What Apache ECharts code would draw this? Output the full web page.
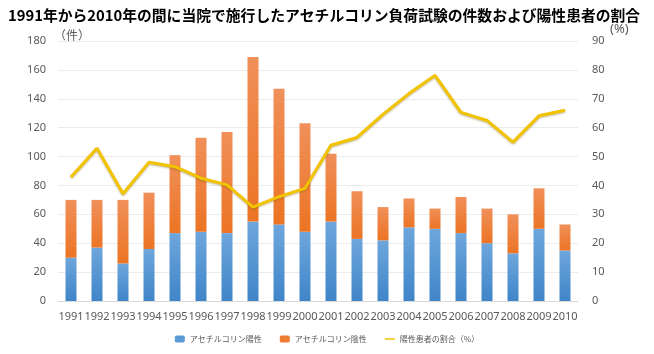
<!DOCTYPE html>
<html>
<head>
<meta charset="utf-8">
<script src="https://cdn.jsdelivr.net/npm/echarts@6/dist/echarts.min.js"></script>
<style>
  html, body { margin: 0; padding: 0; background: #fff; }
  #chart { width: 654px; height: 354px; }
</style>
</head>
<body>
<div id="chart"></div>
<script>
// values
const years = ['1991','1992','1993','1994','1995','1996','1997','1998','1999','2000',
               '2001','2002','2003','2004','2005','2006','2007','2008','2009','2010'];
const positive = [30, 37, 26, 36, 47, 48, 47, 55, 53, 48, 55, 43, 42, 51, 50, 47, 40, 33, 50, 35];
const negative = [40, 33, 44, 39, 54, 65, 70, 114, 94, 75, 47, 33, 23, 20, 14, 25, 24, 27, 28, 18];
const positiveRate = [42.9, 52.9, 37.1, 48.0, 46.5, 42.5, 40.2, 32.5, 36.1, 39.0,
                      53.9, 56.6, 64.6, 71.8, 78.1, 65.3, 62.5, 55.0, 64.1, 66.0];

const blueGrad = new echarts.graphic.LinearGradient(0, 0, 0, 1, [
    { offset: 0, color: '#6ea6dc' },
    { offset: 1, color: '#3f85c8' }
]);
const orangeGrad = new echarts.graphic.LinearGradient(0, 0, 0, 1, [
    { offset: 0, color: '#f0905a' },
    { offset: 1, color: '#ec7424' }
]);

const chart = echarts.init(document.getElementById('chart'));
const axisText = { color: '#595959', fontSize: 11, fontFamily: 'Noto Sans' };

chart.setOption({
    animation: false,
    title: {
        text: '1991年から2010年の間に当院で施行したアセチルコリン負荷試験の件数および陽性患者の割合',
        left: 3, top: 3,
        textStyle: { fontSize: 14.8, fontWeight: 'bold', color: '#000', fontFamily: 'Noto Sans CJK JP' }
    },
    legend: {
        bottom: 6, left: 'center',
        itemWidth: 10, itemHeight: 7, itemGap: 18,
        textStyle: { fontSize: 8, color: '#595959', fontFamily: 'Noto Sans CJK JP' },
        data: [
            { name: 'アセチルコリン陽性', itemStyle: { color: '#5b9bd5' } },
            { name: 'アセチルコリン陰性', itemStyle: { color: '#ed7d31' } },
            { name: '陽性患者の割合（%）', icon: 'path://M0,0 L20,0 L20,3 L0,3 Z', itemWidth: 18, itemHeight: 2, itemStyle: { color: '#f2c400' } }
        ]
    },
    grid: { left: 58, right: 76, top: 41, bottom: 53 },
    xAxis: {
        type: 'category',
        data: years,
        axisLine: { lineStyle: { color: '#d9d9d9' } },
        axisTick: { show: false },
        axisLabel: Object.assign({ interval: 0, margin: 10 }, axisText)
    },
    yAxis: [
        {
            type: 'value', min: 0, max: 180, interval: 20,
            name: '（件）',
            nameGap: 0,
            nameTextStyle: { color: '#595959', fontSize: 12, fontFamily: 'Noto Sans CJK JP', align: 'left', padding: [0, 0, 0, -4] },
            axisLabel: Object.assign({ margin: 12 }, axisText),
            splitLine: { lineStyle: { color: '#ececec' } },
            axisLine: { show: false }, axisTick: { show: false }
        },
        {
            type: 'value', min: 0, max: 90, interval: 10,
            name: '(%)',
            nameGap: 0,
            nameTextStyle: { color: '#595959', fontSize: 13, fontFamily: 'Noto Sans', align: 'left', padding: [0, 0, 0, 32] },
            axisLabel: Object.assign({ margin: 14 }, axisText),
            splitLine: { show: false },
            axisLine: { show: false }, axisTick: { show: false }
        }
    ],
    series: [
        {
            name: 'アセチルコリン陽性', type: 'bar', stack: 'n', barWidth: 11,
            itemStyle: { color: blueGrad },
            data: positive
        },
        {
            name: 'アセチルコリン陰性', type: 'bar', stack: 'n', barWidth: 11,
            itemStyle: { color: orangeGrad },
            data: negative
        },
        {
            name: '陽性患者の割合（%）', type: 'line', yAxisIndex: 1,
            symbol: 'none',
            lineStyle: { color: '#f2c400', width: 3, shadowColor: 'rgba(120,90,0,0.45)', shadowBlur: 2, shadowOffsetY: 1 },
            itemStyle: { color: '#f2c400' },
            data: positiveRate
        }
    ]
});
</script>
</body>
</html>
